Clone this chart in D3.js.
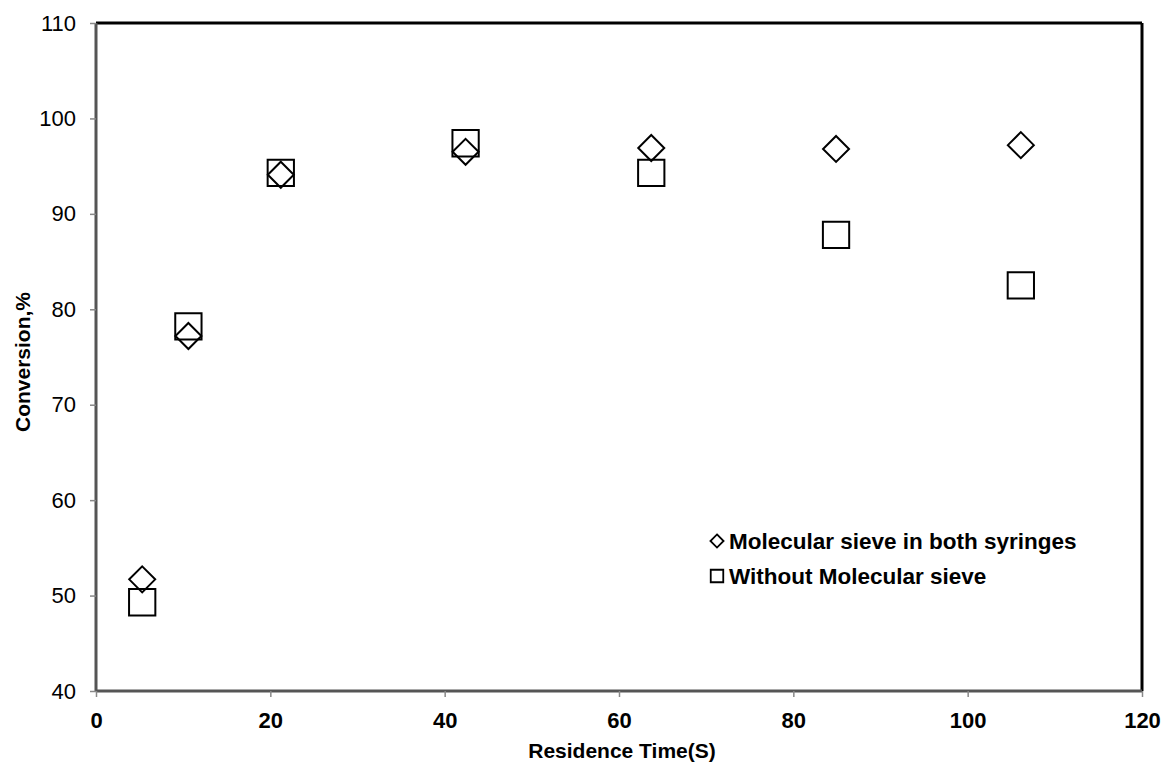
<!DOCTYPE html>
<html>
<head>
<meta charset="utf-8">
<script src="https://cdn.jsdelivr.net/npm/d3@7"></script>
<style>
  body { margin: 0; background: #fff; }
  svg { font-family: "Liberation Sans", Arial, sans-serif; }
</style>
</head>
<body>
<div id="chart"></div>
<script>
// residence time (s)
const residenceTime = [5.3, 10.6, 21.2, 42.4, 63.7, 84.9, 106.1];
// conversion, %
const withSieve = [51.7, 77.2, 94.1, 96.5, 96.9, 96.8, 97.2];
const withoutSieve = [49.3, 78.2, 94.3, 97.4, 94.3, 87.8, 82.5];
const seriesNames = ["Molecular sieve in both syringes", "Without Molecular sieve"];
const xTicks = [0, 20, 40, 60, 80, 100, 120];
const yTicks = [40, 50, 60, 70, 80, 90, 100, 110];

const width = 1166, height = 762;
const margin = {top: 23, right: 24, bottom: 71, left: 96};

const svg = d3.select("#chart").append("svg")
    .attr("width", width)
    .attr("height", height);

const x = d3.scaleLinear().domain([0, 120]).range([margin.left, width - margin.right]);
const y = d3.scaleLinear().domain([40, 110]).range([height - margin.bottom, margin.top]);

// frame: top and right black
svg.append("line")
    .attr("x1", x(0)).attr("x2", x(120))
    .attr("y1", y(110)).attr("y2", y(110))
    .style("stroke", "#000").style("stroke-width", 3);
svg.append("line")
    .attr("x1", x(120)).attr("x2", x(120))
    .attr("y1", y(110)).attr("y2", y(40))
    .style("stroke", "#000").style("stroke-width", 3);

// x axis
const xAxis = d3.axisBottom(x).tickValues(xTicks).tickSize(6).tickPadding(15);
const gx = svg.append("g")
    .attr("transform", "translate(0," + y(40) + ")")
    .call(xAxis);
gx.select(".domain").style("stroke", "#555").style("stroke-width", 3)
    .attr("d", "M" + x(0) + ",0H" + x(120));
gx.selectAll(".tick line").style("stroke", "#888").style("stroke-width", 1.5);
gx.selectAll(".tick text")
    .style("font-size", "22px").style("font-weight", "bold").style("fill", "#000")
    .attr("dy", "0.71em");

// y axis
const yAxis = d3.axisLeft(y).tickValues(yTicks).tickSize(6).tickPadding(14);
const gy = svg.append("g")
    .attr("transform", "translate(" + x(0) + ",0)")
    .call(yAxis);
gy.select(".domain").style("stroke", "#555").style("stroke-width", 3)
    .attr("d", "M0," + y(40) + "V" + y(110));
gy.selectAll(".tick line").style("stroke", "#888").style("stroke-width", 1.5);
gy.selectAll(".tick text")
    .style("font-size", "22px").style("fill", "#000");

// axis titles
svg.append("text")
    .attr("x", (x(0) + x(120)) / 2 + 3)
    .attr("y", 758)
    .attr("text-anchor", "middle")
    .style("font-size", "21px").style("font-weight", "bold")
    .text("Residence Time(S)");

svg.append("text")
    .attr("transform", "translate(30," + ((y(40) + y(110)) / 2 + 5) + ") rotate(-90)")
    .attr("text-anchor", "middle")
    .style("font-size", "21px").style("font-weight", "bold")
    .text("Conversion,%");

// markers
const diamond = d3.symbol().type(d3.symbolDiamond2).size(430);
const square = d3.symbol().type(d3.symbolSquare2).size(880);

svg.append("g").selectAll("path")
    .data(residenceTime.map((t, i) => ({t: t, v: withSieve[i]})))
    .join("path")
    .attr("d", diamond)
    .attr("transform", d => "translate(" + x(d.t) + "," + y(d.v) + ")")
    .style("fill", "none").style("stroke", "#000").style("stroke-width", 2);

svg.append("g").selectAll("path")
    .data(residenceTime.map((t, i) => ({t: t, v: withoutSieve[i]})))
    .join("path")
    .attr("d", square)
    .attr("transform", d => "translate(" + x(d.t) + "," + y(d.v) + ")")
    .style("fill", "none").style("stroke", "#000").style("stroke-width", 2);

// legend
const legend = svg.append("g").attr("transform", "translate(717,541)");
const legendSymbols = [d3.symbol().type(d3.symbolDiamond2).size(110), d3.symbol().type(d3.symbolSquare2).size(200)];
seriesNames.forEach((name, i) => {
  const row = legend.append("g").attr("transform", "translate(0," + (i * 35) + ")");
  row.append("path")
      .attr("d", legendSymbols[i])
      .style("fill", "none").style("stroke", "#000").style("stroke-width", 1.8);
  row.append("text")
      .attr("x", 12)
      .attr("y", 8)
      .style("font-size", "22.5px").style("font-weight", "bold")
      .text(name);
});
</script>
</body>
</html>
